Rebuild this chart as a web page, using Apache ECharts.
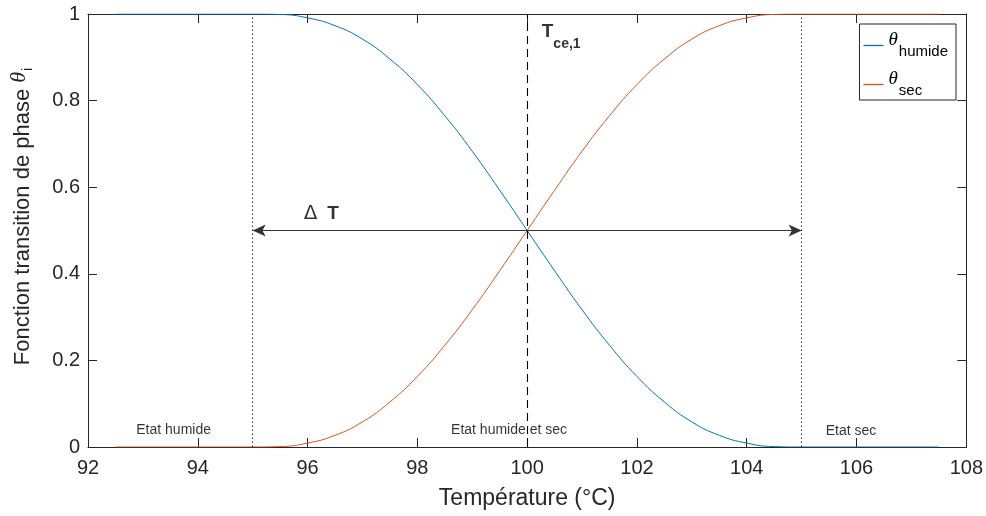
<!DOCTYPE html>
<html>
<head>
<meta charset="utf-8">
<script src="https://cdn.jsdelivr.net/npm/echarts@6/dist/echarts.min.js"></script>
<style>html,body{margin:0;padding:0;background:#fff}#c{width:986px;height:516px}</style>
</head>
<body>
<div id="c"></div>
<script>
// ---- data ----
const temperatures = [92.5,93,93.5,94,94.5,95,95.5,96,96.5,97,97.5,98,98.5,99,99.5,100,100.5,101,101.5,102,102.5,103,103.5,104,104.5,105,105.5,106,106.5,107,107.5];
const thetaHumide = [1,1,1,1,1,1,0.999,0.991,0.973,0.942,0.896,0.837,0.765,0.683,0.593,0.5,0.407,0.317,0.235,0.163,0.104,0.058,0.027,0.009,0.001,0,0,0,0,0,0];
const thetaSec = [0,0,0,0,0,0,0.001,0.009,0.027,0.058,0.104,0.163,0.235,0.317,0.407,0.5,0.593,0.683,0.765,0.837,0.896,0.942,0.973,0.991,0.999,1,1,1,1,1,1];
const xTicks = [92,94,96,98,100,102,104,106,108];
const yTicks = [0,0.2,0.4,0.6,0.8,1];
const boundaryTemps = [95,105];
const centerTemp = 100;
const deltaT = {from:95, to:105, level:0.5};
const annotations = [
  {pos:[93.56,0.039], text:'Etat humide'},
  {pos:[99.67,0.038], text:'Etat humide et sec'},
  {pos:[105.9,0.036], text:'Etat sec'},
  {pos:[100.62,0.945], text:'{T|T}{s|ce,1}'},
  {pos:[96.25,0.538], text:'{d|\u0394}{g| }{D|T}'}
];

const font = 'Liberation Sans, Arial, Helvetica, sans-serif';
const serif = 'Liberation Serif, Times New Roman, serif';
const axisColor = '#262626';
const blue = '#0072BD', red = '#D95319';

const pair = arr => temperatures.map((t,i)=>[t,arr[i]]);

const axisCommon = {
  type:'value',
  axisLine:{show:true,onZero:false,lineStyle:{color:axisColor,width:1}},
  axisTick:{show:true,inside:true,length:9,lineStyle:{color:axisColor,width:1}},
  splitLine:{show:false}
};

const chart = echarts.init(document.getElementById('c'), null, {renderer:'canvas'});
const option = {
  animation:false,
  textStyle:{fontFamily:font},
  grid:{left:88,right:19,top:14,bottom:69,containLabel:false},
  xAxis:[
    Object.assign({}, axisCommon, {
      min:xTicks[0], max:xTicks[xTicks.length-1], interval:xTicks[1]-xTicks[0],
      position:'bottom',
      axisLabel:{fontSize:20,color:axisColor,margin:11,fontFamily:font},
      name:'Température (°C)', nameLocation:'middle', nameGap:40,
      nameTextStyle:{fontSize:23,color:axisColor,fontFamily:font}
    }),
    Object.assign({}, axisCommon, {
      min:xTicks[0], max:xTicks[xTicks.length-1], interval:xTicks[1]-xTicks[0],
      position:'top', axisLabel:{show:false}
    })
  ],
  yAxis:[
    Object.assign({}, axisCommon, {
      min:yTicks[0], max:yTicks[yTicks.length-1], interval:yTicks[1]-yTicks[0],
      position:'left',
      axisLabel:{fontSize:20,color:axisColor,margin:8,fontFamily:font},
      name:'{a|Fonction transition de phase }{t|\u03B8}{i|i}',
      nameLocation:'middle', nameGap:50,
      nameTextStyle:{
        color:axisColor, padding:[0,0,0,28],
        rich:{
          a:{fontSize:22,fontFamily:font,color:axisColor},
          t:{fontSize:22,fontFamily:serif,fontStyle:'italic',color:axisColor,padding:[0,0,8,0]},
          i:{fontSize:14,fontFamily:font,color:axisColor,padding:[10,0,0,1]}
        }
      }
    }),
    Object.assign({}, axisCommon, {
      min:yTicks[0], max:yTicks[yTicks.length-1], interval:yTicks[1]-yTicks[0],
      position:'right', axisLabel:{show:false}
    })
  ],
  legend:{
    data:['humide','sec'],
    orient:'vertical', right:30, top:24,
    icon:'rect', itemWidth:20, itemHeight:1.3, itemGap:10,
    padding:[6,8,2,4],
    borderColor:axisColor, borderWidth:1, backgroundColor:'#fff',
    formatter: n => '{t|\u03B8}{s|' + n + '}',
    textStyle:{
      color:'#000',
      rich:{
        t:{fontSize:19,fontFamily:serif,fontStyle:'italic',color:'#000',padding:[0,0,12,0]},
        s:{fontSize:15,fontFamily:font,color:'#000',padding:[12,0,0,1]}
      }
    }
  },
  series:[
    {
      name:'humide', type:'line', data:pair(thetaHumide), showSymbol:false, symbol:'none',
      smooth:true,
      lineStyle:{color:blue,width:1}, itemStyle:{color:blue}, z:3,
      markLine:{
        silent:true, symbol:'none', animation:false,
        label:{show:false},
        data:[
          {xAxis:boundaryTemps[0], lineStyle:{type:[1.5,2.5],color:'#333',width:1}},
          {xAxis:boundaryTemps[1], lineStyle:{type:[1.5,2.5],color:'#333',width:1}},
          {xAxis:centerTemp, lineStyle:{type:[8,5],color:'#000',width:1.1}}
        ]
      }
    },
    {
      name:'sec', type:'line', data:pair(thetaSec), showSymbol:false, symbol:'none',
      smooth:true,
      lineStyle:{color:red,width:1}, itemStyle:{color:red}, z:3,
      markLine:{
        silent:true, symbol:['arrow','arrow'], symbolSize:[9,13], animation:false,
        label:{show:false},
        lineStyle:{color:'#333',width:1.2,type:'solid'},
        data:[[{coord:[deltaT.from,deltaT.level]},{coord:[deltaT.to,deltaT.level]}]]
      }
    },
    {
      name:'annotations', type:'scatter', silent:true, symbolSize:1,
      itemStyle:{color:'rgba(0,0,0,0)'}, z:10,
      data: annotations.map(a => ({
        value:a.pos,
        label:{
          show:true, position:'inside', formatter:a.text,
          fontSize:14, color:'#000', fontFamily:font,
          rich:{
            T:{fontSize:19,fontWeight:'bold',color:'#000',fontFamily:font,padding:[0,0,12,0]},
            s:{fontSize:14,fontWeight:'bold',color:'#000',fontFamily:font,padding:[12,0,0,0]},
            d:{fontSize:20,color:'#000',fontFamily:'DejaVu Sans, '+font},
            g:{fontSize:20,width:10},
            D:{fontSize:19,fontWeight:'bold',color:'#000',fontFamily:font}
          }
        }
      }))
    }
  ]
};
chart.setOption(option);
</script>
</body>
</html>
